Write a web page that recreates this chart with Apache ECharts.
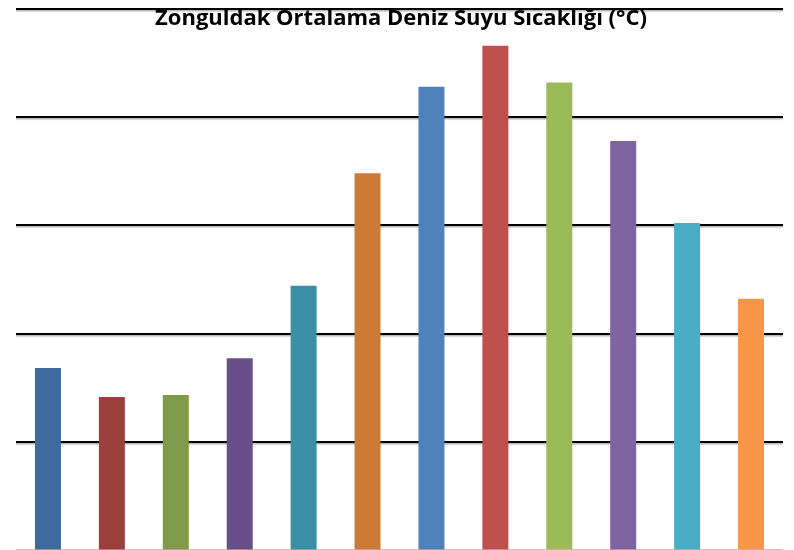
<!DOCTYPE html>
<html>
<head>
<meta charset="utf-8">
<style>
  html, body { margin: 0; padding: 0; background: #fff; }
  #chart { width: 794px; height: 550px; }
</style>
<script src="https://cdn.jsdelivr.net/npm/echarts@6/dist/echarts.min.js"></script>
</head>
<body>
<div id="chart"></div>
<script>
// Monthly mean sea water temperature, Zonguldak (°C)
const months = ['Oca', 'Şub', 'Mar', 'Nis', 'May', 'Haz', 'Tem', 'Ağu', 'Eyl', 'Eki', 'Kas', 'Ara'];
const seaTemp = [8.4, 7.05, 7.15, 8.85, 12.2, 17.4, 21.4, 23.3, 21.6, 18.9, 15.1, 11.6];
const yTicks = [0, 5, 10, 15, 20, 25];

// one colour per month
const palette = ['#3F6A9D', '#9D403D', '#7F9A48', '#684F87', '#3A8FA5', '#CD7A37',
                 '#4F81BD', '#C0504D', '#9BBB59', '#8064A2', '#4BACC6', '#F79646'];

const chart = echarts.init(document.getElementById('chart'), null, { renderer: 'canvas' });

chart.setOption({
  animation: false,
  backgroundColor: '#ffffff',
  title: {
    text: 'Zonguldak Ortalama Deniz Suyu Sıcaklığı (°C)',
    left: 396,
    top: 3,
    textAlign: 'center',
    textStyle: {
      fontFamily: 'Open Sans',
      fontWeight: 'bold',
      fontSize: 22,
      color: '#000'
    }
  },
  grid: { left: 16, right: 11, top: 9, bottom: 0.5, containLabel: false },
  xAxis: {
    type: 'category',
    data: months,
    axisLine: { show: false },
    axisTick: { show: false },
    axisLabel: { show: false }
  },
  yAxis: {
    type: 'value',
    min: yTicks[0],
    max: yTicks[yTicks.length - 1],
    interval: yTicks[1] - yTicks[0],
    axisLine: { show: false },
    axisTick: { show: false },
    axisLabel: { show: false },
    splitLine: {
      show: true,
      lineStyle: {
        color: ['#c4c4c4', '#000', '#000', '#000', '#000', '#000'],
        width: 2,
        shadowColor: 'rgba(0,0,0,0.3)',
        shadowOffsetY: 1.5,
        shadowBlur: 1
      }
    }
  },
  series: [{
    type: 'bar',
    barWidth: 26,
    data: seaTemp.map((v, i) => ({ value: v, itemStyle: { color: palette[i] } }))
  }]
});
</script>
</body>
</html>
